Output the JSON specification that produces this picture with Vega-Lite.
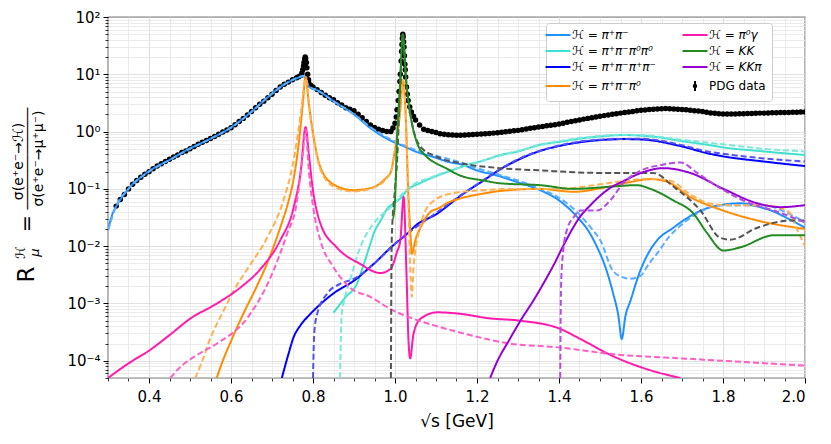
{
  "$schema": "https://vega.github.io/schema/vega-lite/v6.json",
  "width": 697,
  "height": 361,
  "autosize": {"type": "none"},
  "padding": {"left": 108, "top": 17, "right": 26, "bottom": 66},
  "background": "white",
  "config": {
    "font": "DejaVu Sans",
    "view": {"stroke": "black", "strokeWidth": 1.2},
    "axis": {
      "labelFont": "DejaVu Sans",
      "titleFont": "DejaVu Sans",
      "labelColor": "black",
      "titleColor": "black",
      "tickColor": "black",
      "domain": false,
      "titleFontWeight": "normal"
    }
  },
  "datasets": {
    "one": [{"s": 1, "R": 1}],
    "pdg": [
      {"s": 0.32, "R": 0.05, "curve": "PDG"}, {"s": 0.33, "R": 0.065, "curve": "PDG"}, {"s": 0.34, "R": 0.08, "curve": "PDG"},
      {"s": 0.35, "R": 0.1, "curve": "PDG"}, {"s": 0.36, "R": 0.12, "curve": "PDG"}, {"s": 0.37, "R": 0.14, "curve": "PDG"},
      {"s": 0.38, "R": 0.16, "curve": "PDG"}, {"s": 0.39, "R": 0.18, "curve": "PDG"}, {"s": 0.40, "R": 0.2, "curve": "PDG"},
      {"s": 0.41, "R": 0.225, "curve": "PDG"}, {"s": 0.42, "R": 0.25, "curve": "PDG"}, {"s": 0.43, "R": 0.275, "curve": "PDG"},
      {"s": 0.44, "R": 0.3, "curve": "PDG"}, {"s": 0.45, "R": 0.33, "curve": "PDG"}, {"s": 0.46, "R": 0.36, "curve": "PDG"},
      {"s": 0.47, "R": 0.39, "curve": "PDG"}, {"s": 0.48, "R": 0.43, "curve": "PDG"}, {"s": 0.49, "R": 0.46, "curve": "PDG"},
      {"s": 0.50, "R": 0.5, "curve": "PDG"}, {"s": 0.51, "R": 0.55, "curve": "PDG"}, {"s": 0.52, "R": 0.6, "curve": "PDG"},
      {"s": 0.53, "R": 0.65, "curve": "PDG"}, {"s": 0.54, "R": 0.7, "curve": "PDG"}, {"s": 0.55, "R": 0.76, "curve": "PDG"},
      {"s": 0.56, "R": 0.82, "curve": "PDG"}, {"s": 0.57, "R": 0.9, "curve": "PDG"}, {"s": 0.58, "R": 0.98, "curve": "PDG"},
      {"s": 0.59, "R": 1.07, "curve": "PDG"}, {"s": 0.60, "R": 1.17, "curve": "PDG"}, {"s": 0.61, "R": 1.32, "curve": "PDG"},
      {"s": 0.62, "R": 1.5, "curve": "PDG"}, {"s": 0.63, "R": 1.7, "curve": "PDG"}, {"s": 0.64, "R": 1.95, "curve": "PDG"},
      {"s": 0.65, "R": 2.25, "curve": "PDG"}, {"s": 0.66, "R": 2.6, "curve": "PDG"}, {"s": 0.67, "R": 3.0, "curve": "PDG"},
      {"s": 0.68, "R": 3.4, "curve": "PDG"}, {"s": 0.69, "R": 3.9, "curve": "PDG"}, {"s": 0.70, "R": 4.5, "curve": "PDG"},
      {"s": 0.71, "R": 5.2, "curve": "PDG"}, {"s": 0.72, "R": 6.0, "curve": "PDG"}, {"s": 0.73, "R": 6.7, "curve": "PDG"},
      {"s": 0.74, "R": 7.3, "curve": "PDG"}, {"s": 0.75, "R": 8.0, "curve": "PDG"}, {"s": 0.76, "R": 8.7, "curve": "PDG"},
      {"s": 0.765, "R": 9.1, "curve": "PDG"}, {"s": 0.77, "R": 9.5, "curve": "PDG"}, {"s": 0.773, "R": 10.5, "curve": "PDG"},
      {"s": 0.775, "R": 12, "curve": "PDG"}, {"s": 0.777, "R": 14, "curve": "PDG"}, {"s": 0.778, "R": 16, "curve": "PDG"},
      {"s": 0.78, "R": 18.5, "curve": "PDG"}, {"s": 0.781, "R": 20, "curve": "PDG"}, {"s": 0.782, "R": 19, "curve": "PDG"},
      {"s": 0.784, "R": 16, "curve": "PDG"}, {"s": 0.785, "R": 13, "curve": "PDG"}, {"s": 0.787, "R": 10, "curve": "PDG"},
      {"s": 0.789, "R": 8, "curve": "PDG"}, {"s": 0.79, "R": 7.0, "curve": "PDG"}, {"s": 0.795, "R": 6.4, "curve": "PDG"},
      {"s": 0.80, "R": 6.0, "curve": "PDG"}, {"s": 0.81, "R": 5.4, "curve": "PDG"}, {"s": 0.82, "R": 4.8, "curve": "PDG"},
      {"s": 0.83, "R": 4.3, "curve": "PDG"}, {"s": 0.84, "R": 3.9, "curve": "PDG"}, {"s": 0.85, "R": 3.6, "curve": "PDG"},
      {"s": 0.86, "R": 3.2, "curve": "PDG"}, {"s": 0.87, "R": 2.9, "curve": "PDG"}, {"s": 0.88, "R": 2.6, "curve": "PDG"},
      {"s": 0.89, "R": 2.45, "curve": "PDG"}, {"s": 0.90, "R": 2.3, "curve": "PDG"}, {"s": 0.91, "R": 2.0, "curve": "PDG"},
      {"s": 0.92, "R": 1.75, "curve": "PDG"}, {"s": 0.93, "R": 1.5, "curve": "PDG"}, {"s": 0.94, "R": 1.3, "curve": "PDG"},
      {"s": 0.95, "R": 1.18, "curve": "PDG"}, {"s": 0.96, "R": 1.1, "curve": "PDG"}, {"s": 0.97, "R": 1.04, "curve": "PDG"},
      {"s": 0.98, "R": 1.0, "curve": "PDG"}, {"s": 0.99, "R": 1.0, "curve": "PDG"}, {"s": 0.995, "R": 1.15, "curve": "PDG"},
      {"s": 1.0, "R": 1.4, "curve": "PDG"}, {"s": 1.003, "R": 1.8, "curve": "PDG"}, {"s": 1.005, "R": 2.4, "curve": "PDG"},
      {"s": 1.008, "R": 3.5, "curve": "PDG"}, {"s": 1.01, "R": 5, "curve": "PDG"}, {"s": 1.012, "R": 7.5, "curve": "PDG"},
      {"s": 1.013, "R": 10, "curve": "PDG"}, {"s": 1.015, "R": 17, "curve": "PDG"}, {"s": 1.016, "R": 25, "curve": "PDG"},
      {"s": 1.017, "R": 33, "curve": "PDG"}, {"s": 1.018, "R": 42, "curve": "PDG"}, {"s": 1.019, "R": 50, "curve": "PDG"},
      {"s": 1.02, "R": 45, "curve": "PDG"}, {"s": 1.021, "R": 37, "curve": "PDG"}, {"s": 1.022, "R": 30, "curve": "PDG"},
      {"s": 1.023, "R": 21, "curve": "PDG"}, {"s": 1.024, "R": 15, "curve": "PDG"}, {"s": 1.025, "R": 12, "curve": "PDG"},
      {"s": 1.026, "R": 9, "curve": "PDG"}, {"s": 1.028, "R": 6, "curve": "PDG"}, {"s": 1.03, "R": 4.5, "curve": "PDG"},
      {"s": 1.032, "R": 3.5, "curve": "PDG"}, {"s": 1.036, "R": 2.7, "curve": "PDG"},
      {"s": 1.04, "R": 2.2, "curve": "PDG"}, {"s": 1.045, "R": 1.85, "curve": "PDG"}, {"s": 1.05, "R": 1.6, "curve": "PDG"}, {"s": 1.06, "R": 1.3, "curve": "PDG"},
      {"s": 1.07, "R": 1.1, "curve": "PDG"}, {"s": 1.08, "R": 1.04, "curve": "PDG"}, {"s": 1.09, "R": 1.0, "curve": "PDG"},
      {"s": 1.10, "R": 0.96, "curve": "PDG"}, {"s": 1.11, "R": 0.92, "curve": "PDG"}, {"s": 1.12, "R": 0.9, "curve": "PDG"},
      {"s": 1.13, "R": 0.88, "curve": "PDG"}, {"s": 1.14, "R": 0.87, "curve": "PDG"}, {"s": 1.15, "R": 0.86, "curve": "PDG"},
      {"s": 1.16, "R": 0.86, "curve": "PDG"}, {"s": 1.17, "R": 0.87, "curve": "PDG"}, {"s": 1.18, "R": 0.88, "curve": "PDG"},
      {"s": 1.19, "R": 0.89, "curve": "PDG"}, {"s": 1.20, "R": 0.9, "curve": "PDG"}, {"s": 1.21, "R": 0.91, "curve": "PDG"},
      {"s": 1.22, "R": 0.92, "curve": "PDG"}, {"s": 1.23, "R": 0.93, "curve": "PDG"}, {"s": 1.24, "R": 0.94, "curve": "PDG"},
      {"s": 1.25, "R": 0.95, "curve": "PDG"}, {"s": 1.26, "R": 0.97, "curve": "PDG"}, {"s": 1.27, "R": 0.99, "curve": "PDG"},
      {"s": 1.28, "R": 1.01, "curve": "PDG"}, {"s": 1.29, "R": 1.03, "curve": "PDG"}, {"s": 1.30, "R": 1.05, "curve": "PDG"},
      {"s": 1.31, "R": 1.08, "curve": "PDG"}, {"s": 1.32, "R": 1.11, "curve": "PDG"}, {"s": 1.33, "R": 1.14, "curve": "PDG"},
      {"s": 1.34, "R": 1.17, "curve": "PDG"}, {"s": 1.35, "R": 1.2, "curve": "PDG"}, {"s": 1.36, "R": 1.23, "curve": "PDG"},
      {"s": 1.37, "R": 1.26, "curve": "PDG"}, {"s": 1.38, "R": 1.29, "curve": "PDG"}, {"s": 1.39, "R": 1.32, "curve": "PDG"},
      {"s": 1.40, "R": 1.36, "curve": "PDG"}, {"s": 1.41, "R": 1.4, "curve": "PDG"}, {"s": 1.42, "R": 1.45, "curve": "PDG"},
      {"s": 1.43, "R": 1.5, "curve": "PDG"}, {"s": 1.44, "R": 1.55, "curve": "PDG"}, {"s": 1.45, "R": 1.6, "curve": "PDG"},
      {"s": 1.46, "R": 1.65, "curve": "PDG"}, {"s": 1.47, "R": 1.7, "curve": "PDG"}, {"s": 1.48, "R": 1.75, "curve": "PDG"},
      {"s": 1.49, "R": 1.8, "curve": "PDG"}, {"s": 1.50, "R": 1.85, "curve": "PDG"}, {"s": 1.51, "R": 1.9, "curve": "PDG"},
      {"s": 1.52, "R": 1.95, "curve": "PDG"}, {"s": 1.53, "R": 2.0, "curve": "PDG"}, {"s": 1.54, "R": 2.05, "curve": "PDG"},
      {"s": 1.55, "R": 2.1, "curve": "PDG"}, {"s": 1.56, "R": 2.15, "curve": "PDG"}, {"s": 1.57, "R": 2.2, "curve": "PDG"},
      {"s": 1.58, "R": 2.25, "curve": "PDG"}, {"s": 1.59, "R": 2.3, "curve": "PDG"}, {"s": 1.60, "R": 2.35, "curve": "PDG"},
      {"s": 1.61, "R": 2.38, "curve": "PDG"}, {"s": 1.62, "R": 2.42, "curve": "PDG"}, {"s": 1.63, "R": 2.45, "curve": "PDG"},
      {"s": 1.64, "R": 2.48, "curve": "PDG"}, {"s": 1.65, "R": 2.5, "curve": "PDG"}, {"s": 1.66, "R": 2.52, "curve": "PDG"},
      {"s": 1.67, "R": 2.5, "curve": "PDG"}, {"s": 1.68, "R": 2.48, "curve": "PDG"}, {"s": 1.69, "R": 2.46, "curve": "PDG"},
      {"s": 1.70, "R": 2.44, "curve": "PDG"}, {"s": 1.71, "R": 2.4, "curve": "PDG"}, {"s": 1.72, "R": 2.36, "curve": "PDG"},
      {"s": 1.73, "R": 2.32, "curve": "PDG"}, {"s": 1.74, "R": 2.28, "curve": "PDG"}, {"s": 1.75, "R": 2.24, "curve": "PDG"},
      {"s": 1.76, "R": 2.18, "curve": "PDG"}, {"s": 1.77, "R": 2.12, "curve": "PDG"}, {"s": 1.78, "R": 2.08, "curve": "PDG"},
      {"s": 1.79, "R": 2.05, "curve": "PDG"}, {"s": 1.80, "R": 2.03, "curve": "PDG"}, {"s": 1.81, "R": 2.02, "curve": "PDG"},
      {"s": 1.82, "R": 2.02, "curve": "PDG"}, {"s": 1.83, "R": 2.03, "curve": "PDG"}, {"s": 1.84, "R": 2.04, "curve": "PDG"},
      {"s": 1.85, "R": 2.05, "curve": "PDG"}, {"s": 1.86, "R": 2.06, "curve": "PDG"}, {"s": 1.87, "R": 2.07, "curve": "PDG"},
      {"s": 1.88, "R": 2.08, "curve": "PDG"}, {"s": 1.89, "R": 2.1, "curve": "PDG"}, {"s": 1.90, "R": 2.1, "curve": "PDG"},
      {"s": 1.91, "R": 2.12, "curve": "PDG"}, {"s": 1.92, "R": 2.13, "curve": "PDG"}, {"s": 1.93, "R": 2.14, "curve": "PDG"},
      {"s": 1.94, "R": 2.15, "curve": "PDG"}, {"s": 1.95, "R": 2.15, "curve": "PDG"}, {"s": 1.96, "R": 2.16, "curve": "PDG"},
      {"s": 1.97, "R": 2.17, "curve": "PDG"}, {"s": 1.98, "R": 2.18, "curve": "PDG"}, {"s": 1.99, "R": 2.19, "curve": "PDG"},
      {"s": 2.0, "R": 2.2, "curve": "PDG"}
    ],
    "curves": [
      {"s": 0.3, "R": 0.019, "curve": "pipi", "model": "solid"}, {"s": 0.31, "R": 0.035, "curve": "pipi", "model": "solid"},
      {"s": 0.32, "R": 0.05, "curve": "pipi", "model": "solid"}, {"s": 0.33, "R": 0.065, "curve": "pipi", "model": "solid"},
      {"s": 0.35, "R": 0.1, "curve": "pipi", "model": "solid"}, {"s": 0.362, "R": 0.126, "curve": "pipi", "model": "solid"},
      {"s": 0.38, "R": 0.16, "curve": "pipi", "model": "solid"}, {"s": 0.403, "R": 0.21, "curve": "pipi", "model": "solid"},
      {"s": 0.45, "R": 0.32, "curve": "pipi", "model": "solid"}, {"s": 0.493, "R": 0.48, "curve": "pipi", "model": "solid"},
      {"s": 0.55, "R": 0.75, "curve": "pipi", "model": "solid"}, {"s": 0.598, "R": 1.16, "curve": "pipi", "model": "solid"},
      {"s": 0.63, "R": 1.7, "curve": "pipi", "model": "solid"}, {"s": 0.663, "R": 2.7, "curve": "pipi", "model": "solid"},
      {"s": 0.69, "R": 4.0, "curve": "pipi", "model": "solid"}, {"s": 0.712, "R": 5.4, "curve": "pipi", "model": "solid"},
      {"s": 0.735, "R": 7.0, "curve": "pipi", "model": "solid"}, {"s": 0.752, "R": 8.0, "curve": "pipi", "model": "solid"},
      {"s": 0.765, "R": 8.8, "curve": "pipi", "model": "solid"}, {"s": 0.776, "R": 9.3, "curve": "pipi", "model": "solid"},
      {"s": 0.782, "R": 8.5, "curve": "pipi", "model": "solid"}, {"s": 0.786, "R": 6.8, "curve": "pipi", "model": "solid"},
      {"s": 0.79, "R": 6.1, "curve": "pipi", "model": "solid"}, {"s": 0.81, "R": 5.3, "curve": "pipi", "model": "solid"},
      {"s": 0.85, "R": 3.4, "curve": "pipi", "model": "solid"}, {"s": 0.9, "R": 2.0, "curve": "pipi", "model": "solid"},
      {"s": 0.94, "R": 1.15, "curve": "pipi", "model": "solid"}, {"s": 0.996, "R": 0.66, "curve": "pipi", "model": "solid"},
      {"s": 1.02, "R": 0.56, "curve": "pipi", "model": "solid"}, {"s": 1.05, "R": 0.45, "curve": "pipi", "model": "solid"},
      {"s": 1.094, "R": 0.36, "curve": "pipi", "model": "solid"}, {"s": 1.135, "R": 0.29, "curve": "pipi", "model": "solid"},
      {"s": 1.16, "R": 0.27, "curve": "pipi", "model": "solid"}, {"s": 1.2, "R": 0.21, "curve": "pipi", "model": "solid"},
      {"s": 1.25, "R": 0.17, "curve": "pipi", "model": "solid"}, {"s": 1.3, "R": 0.13, "curve": "pipi", "model": "solid"},
      {"s": 1.354, "R": 0.095, "curve": "pipi", "model": "solid"}, {"s": 1.4, "R": 0.063, "curve": "pipi", "model": "solid"},
      {"s": 1.44, "R": 0.035, "curve": "pipi", "model": "solid"}, {"s": 1.477, "R": 0.016, "curve": "pipi", "model": "solid"},
      {"s": 1.493, "R": 0.0096, "curve": "pipi", "model": "solid"}, {"s": 1.51, "R": 0.005, "curve": "pipi", "model": "solid"},
      {"s": 1.532, "R": 0.0015, "curve": "pipi", "model": "solid"}, {"s": 1.545, "R": 0.0006, "curve": "pipi", "model": "solid"},
      {"s": 1.553, "R": 0.00024, "curve": "pipi", "model": "solid"}, {"s": 1.562, "R": 0.0006, "curve": "pipi", "model": "solid"},
      {"s": 1.574, "R": 0.0011, "curve": "pipi", "model": "solid"}, {"s": 1.598, "R": 0.0037, "curve": "pipi", "model": "solid"},
      {"s": 1.62, "R": 0.008, "curve": "pipi", "model": "solid"}, {"s": 1.639, "R": 0.0126, "curve": "pipi", "model": "solid"},
      {"s": 1.679, "R": 0.021, "curve": "pipi", "model": "solid"}, {"s": 1.703, "R": 0.028, "curve": "pipi", "model": "solid"},
      {"s": 1.761, "R": 0.046, "curve": "pipi", "model": "solid"}, {"s": 1.8, "R": 0.053, "curve": "pipi", "model": "solid"},
      {"s": 1.843, "R": 0.056, "curve": "pipi", "model": "solid"}, {"s": 1.88, "R": 0.05, "curve": "pipi", "model": "solid"},
      {"s": 1.924, "R": 0.04, "curve": "pipi", "model": "solid"}, {"s": 1.96, "R": 0.03, "curve": "pipi", "model": "solid"},
      {"s": 2.0, "R": 0.021, "curve": "pipi", "model": "solid"},

      {"s": 0.3, "R": 0.019, "curve": "pipi_d", "model": "dashed"}, {"s": 0.32, "R": 0.05, "curve": "pipi_d", "model": "dashed"},
      {"s": 0.35, "R": 0.1, "curve": "pipi_d", "model": "dashed"}, {"s": 0.4, "R": 0.2, "curve": "pipi_d", "model": "dashed"},
      {"s": 0.45, "R": 0.32, "curve": "pipi_d", "model": "dashed"}, {"s": 0.5, "R": 0.5, "curve": "pipi_d", "model": "dashed"},
      {"s": 0.55, "R": 0.75, "curve": "pipi_d", "model": "dashed"}, {"s": 0.6, "R": 1.17, "curve": "pipi_d", "model": "dashed"},
      {"s": 0.65, "R": 2.2, "curve": "pipi_d", "model": "dashed"}, {"s": 0.7, "R": 4.6, "curve": "pipi_d", "model": "dashed"},
      {"s": 0.735, "R": 7.0, "curve": "pipi_d", "model": "dashed"}, {"s": 0.76, "R": 8.6, "curve": "pipi_d", "model": "dashed"},
      {"s": 0.776, "R": 9.3, "curve": "pipi_d", "model": "dashed"}, {"s": 0.782, "R": 8.5, "curve": "pipi_d", "model": "dashed"},
      {"s": 0.79, "R": 6.1, "curve": "pipi_d", "model": "dashed"}, {"s": 0.81, "R": 5.3, "curve": "pipi_d", "model": "dashed"},
      {"s": 0.85, "R": 3.4, "curve": "pipi_d", "model": "dashed"}, {"s": 0.9, "R": 2.0, "curve": "pipi_d", "model": "dashed"},
      {"s": 0.94, "R": 1.2, "curve": "pipi_d", "model": "dashed"}, {"s": 1.0, "R": 0.67, "curve": "pipi_d", "model": "dashed"},
      {"s": 1.05, "R": 0.48, "curve": "pipi_d", "model": "dashed"}, {"s": 1.1, "R": 0.38, "curve": "pipi_d", "model": "dashed"},
      {"s": 1.16, "R": 0.29, "curve": "pipi_d", "model": "dashed"}, {"s": 1.2, "R": 0.23, "curve": "pipi_d", "model": "dashed"},
      {"s": 1.25, "R": 0.18, "curve": "pipi_d", "model": "dashed"}, {"s": 1.3, "R": 0.14, "curve": "pipi_d", "model": "dashed"},
      {"s": 1.354, "R": 0.1, "curve": "pipi_d", "model": "dashed"}, {"s": 1.4, "R": 0.07, "curve": "pipi_d", "model": "dashed"},
      {"s": 1.44, "R": 0.042, "curve": "pipi_d", "model": "dashed"}, {"s": 1.48, "R": 0.02, "curve": "pipi_d", "model": "dashed"},
      {"s": 1.5, "R": 0.013, "curve": "pipi_d", "model": "dashed"}, {"s": 1.532, "R": 0.0037, "curve": "pipi_d", "model": "dashed"},
      {"s": 1.56, "R": 0.0028, "curve": "pipi_d", "model": "dashed"}, {"s": 1.574, "R": 0.0027, "curve": "pipi_d", "model": "dashed"},
      {"s": 1.598, "R": 0.003, "curve": "pipi_d", "model": "dashed"}, {"s": 1.62, "R": 0.005, "curve": "pipi_d", "model": "dashed"},
      {"s": 1.639, "R": 0.0074, "curve": "pipi_d", "model": "dashed"}, {"s": 1.67, "R": 0.015, "curve": "pipi_d", "model": "dashed"},
      {"s": 1.703, "R": 0.025, "curve": "pipi_d", "model": "dashed"}, {"s": 1.76, "R": 0.045, "curve": "pipi_d", "model": "dashed"},
      {"s": 1.8, "R": 0.052, "curve": "pipi_d", "model": "dashed"}, {"s": 1.9, "R": 0.052, "curve": "pipi_d", "model": "dashed"},
      {"s": 1.95, "R": 0.04, "curve": "pipi_d", "model": "dashed"}, {"s": 2.0, "R": 0.026, "curve": "pipi_d", "model": "dashed"},

      {"s": 0.85, "R": 0.00069, "curve": "4pi0", "model": "solid"}, {"s": 0.88, "R": 0.0013, "curve": "4pi0", "model": "solid"},
      {"s": 0.907, "R": 0.0022, "curve": "4pi0", "model": "solid"}, {"s": 0.924, "R": 0.0049, "curve": "4pi0", "model": "solid"},
      {"s": 0.94, "R": 0.011, "curve": "4pi0", "model": "solid"}, {"s": 0.948, "R": 0.0166, "curve": "4pi0", "model": "solid"},
      {"s": 0.965, "R": 0.028, "curve": "4pi0", "model": "solid"}, {"s": 0.981, "R": 0.045, "curve": "4pi0", "model": "solid"},
      {"s": 1.0, "R": 0.058, "curve": "4pi0", "model": "solid"}, {"s": 1.013, "R": 0.068, "curve": "4pi0", "model": "solid"},
      {"s": 1.03, "R": 0.095, "curve": "4pi0", "model": "solid"}, {"s": 1.06, "R": 0.125, "curve": "4pi0", "model": "solid"},
      {"s": 1.094, "R": 0.16, "curve": "4pi0", "model": "solid"}, {"s": 1.13, "R": 0.2, "curve": "4pi0", "model": "solid"},
      {"s": 1.176, "R": 0.26, "curve": "4pi0", "model": "solid"}, {"s": 1.22, "R": 0.32, "curve": "4pi0", "model": "solid"},
      {"s": 1.257, "R": 0.39, "curve": "4pi0", "model": "solid"}, {"s": 1.3, "R": 0.45, "curve": "4pi0", "model": "solid"},
      {"s": 1.354, "R": 0.59, "curve": "4pi0", "model": "solid"}, {"s": 1.4, "R": 0.66, "curve": "4pi0", "model": "solid"},
      {"s": 1.45, "R": 0.75, "curve": "4pi0", "model": "solid"}, {"s": 1.5, "R": 0.82, "curve": "4pi0", "model": "solid"},
      {"s": 1.557, "R": 0.87, "curve": "4pi0", "model": "solid"}, {"s": 1.6, "R": 0.85, "curve": "4pi0", "model": "solid"},
      {"s": 1.65, "R": 0.78, "curve": "4pi0", "model": "solid"}, {"s": 1.7, "R": 0.68, "curve": "4pi0", "model": "solid"},
      {"s": 1.761, "R": 0.59, "curve": "4pi0", "model": "solid"}, {"s": 1.8, "R": 0.53, "curve": "4pi0", "model": "solid"},
      {"s": 1.9, "R": 0.45, "curve": "4pi0", "model": "solid"}, {"s": 2.0, "R": 0.39, "curve": "4pi0", "model": "solid"},

      {"s": 0.866, "R": 0.00005, "curve": "4pi0_d", "model": "dashed"}, {"s": 0.87, "R": 0.00065, "curve": "4pi0_d", "model": "dashed"},
      {"s": 0.877, "R": 0.0012, "curve": "4pi0_d", "model": "dashed"}, {"s": 0.89, "R": 0.0025, "curve": "4pi0_d", "model": "dashed"},
      {"s": 0.915, "R": 0.0095, "curve": "4pi0_d", "model": "dashed"}, {"s": 0.948, "R": 0.025, "curve": "4pi0_d", "model": "dashed"},
      {"s": 0.99, "R": 0.048, "curve": "4pi0_d", "model": "dashed"}, {"s": 1.03, "R": 0.1, "curve": "4pi0_d", "model": "dashed"},
      {"s": 1.1, "R": 0.17, "curve": "4pi0_d", "model": "dashed"}, {"s": 1.2, "R": 0.29, "curve": "4pi0_d", "model": "dashed"},
      {"s": 1.3, "R": 0.46, "curve": "4pi0_d", "model": "dashed"}, {"s": 1.4, "R": 0.68, "curve": "4pi0_d", "model": "dashed"},
      {"s": 1.5, "R": 0.84, "curve": "4pi0_d", "model": "dashed"}, {"s": 1.557, "R": 0.88, "curve": "4pi0_d", "model": "dashed"},
      {"s": 1.6, "R": 0.87, "curve": "4pi0_d", "model": "dashed"}, {"s": 1.7, "R": 0.72, "curve": "4pi0_d", "model": "dashed"},
      {"s": 1.8, "R": 0.6, "curve": "4pi0_d", "model": "dashed"}, {"s": 1.9, "R": 0.5, "curve": "4pi0_d", "model": "dashed"},
      {"s": 2.0, "R": 0.45, "curve": "4pi0_d", "model": "dashed"},

      {"s": 0.724, "R": 0.00005, "curve": "4pi", "model": "solid"}, {"s": 0.74, "R": 0.00013, "curve": "4pi", "model": "solid"},
      {"s": 0.752, "R": 0.00025, "curve": "4pi", "model": "solid"}, {"s": 0.77, "R": 0.00042, "curve": "4pi", "model": "solid"},
      {"s": 0.793, "R": 0.00065, "curve": "4pi", "model": "solid"}, {"s": 0.82, "R": 0.001, "curve": "4pi", "model": "solid"},
      {"s": 0.85, "R": 0.0015, "curve": "4pi", "model": "solid"}, {"s": 0.9, "R": 0.0025, "curve": "4pi", "model": "solid"},
      {"s": 0.948, "R": 0.0049, "curve": "4pi", "model": "solid"}, {"s": 1.0, "R": 0.011, "curve": "4pi", "model": "solid"},
      {"s": 1.021, "R": 0.0145, "curve": "4pi", "model": "solid"}, {"s": 1.054, "R": 0.024, "curve": "4pi", "model": "solid"},
      {"s": 1.103, "R": 0.037, "curve": "4pi", "model": "solid"}, {"s": 1.135, "R": 0.055, "curve": "4pi", "model": "solid"},
      {"s": 1.159, "R": 0.075, "curve": "4pi", "model": "solid"}, {"s": 1.216, "R": 0.14, "curve": "4pi", "model": "solid"},
      {"s": 1.257, "R": 0.22, "curve": "4pi", "model": "solid"}, {"s": 1.3, "R": 0.32, "curve": "4pi", "model": "solid"},
      {"s": 1.354, "R": 0.46, "curve": "4pi", "model": "solid"}, {"s": 1.4, "R": 0.56, "curve": "4pi", "model": "solid"},
      {"s": 1.5, "R": 0.71, "curve": "4pi", "model": "solid"}, {"s": 1.557, "R": 0.74, "curve": "4pi", "model": "solid"},
      {"s": 1.6, "R": 0.73, "curve": "4pi", "model": "solid"}, {"s": 1.7, "R": 0.55, "curve": "4pi", "model": "solid"},
      {"s": 1.761, "R": 0.42, "curve": "4pi", "model": "solid"}, {"s": 1.8, "R": 0.37, "curve": "4pi", "model": "solid"},
      {"s": 1.9, "R": 0.3, "curve": "4pi", "model": "solid"}, {"s": 2.0, "R": 0.25, "curve": "4pi", "model": "solid"},

      {"s": 0.8, "R": 0.00005, "curve": "4pi_d", "model": "dashed"}, {"s": 0.803, "R": 0.0003, "curve": "4pi_d", "model": "dashed"},
      {"s": 0.81, "R": 0.00065, "curve": "4pi_d", "model": "dashed"}, {"s": 0.835, "R": 0.0015, "curve": "4pi_d", "model": "dashed"},
      {"s": 0.866, "R": 0.0022, "curve": "4pi_d", "model": "dashed"}, {"s": 0.9, "R": 0.0027, "curve": "4pi_d", "model": "dashed"},
      {"s": 0.95, "R": 0.005, "curve": "4pi_d", "model": "dashed"}, {"s": 1.0, "R": 0.011, "curve": "4pi_d", "model": "dashed"},
      {"s": 1.1, "R": 0.038, "curve": "4pi_d", "model": "dashed"}, {"s": 1.2, "R": 0.12, "curve": "4pi_d", "model": "dashed"},
      {"s": 1.3, "R": 0.33, "curve": "4pi_d", "model": "dashed"}, {"s": 1.4, "R": 0.57, "curve": "4pi_d", "model": "dashed"},
      {"s": 1.5, "R": 0.72, "curve": "4pi_d", "model": "dashed"}, {"s": 1.6, "R": 0.75, "curve": "4pi_d", "model": "dashed"},
      {"s": 1.7, "R": 0.58, "curve": "4pi_d", "model": "dashed"}, {"s": 1.761, "R": 0.45, "curve": "4pi_d", "model": "dashed"},
      {"s": 1.8, "R": 0.41, "curve": "4pi_d", "model": "dashed"}, {"s": 1.9, "R": 0.34, "curve": "4pi_d", "model": "dashed"},
      {"s": 2.0, "R": 0.3, "curve": "4pi_d", "model": "dashed"},

      {"s": 0.565, "R": 0.00005, "curve": "3pi", "model": "solid"}, {"s": 0.58, "R": 0.0001, "curve": "3pi", "model": "solid"},
      {"s": 0.6, "R": 0.00022, "curve": "3pi", "model": "solid"}, {"s": 0.63, "R": 0.00066, "curve": "3pi", "model": "solid"},
      {"s": 0.66, "R": 0.0018, "curve": "3pi", "model": "solid"}, {"s": 0.688, "R": 0.005, "curve": "3pi", "model": "solid"},
      {"s": 0.72, "R": 0.021, "curve": "3pi", "model": "solid"}, {"s": 0.74, "R": 0.06, "curve": "3pi", "model": "solid"},
      {"s": 0.752, "R": 0.14, "curve": "3pi", "model": "solid"}, {"s": 0.765, "R": 0.6, "curve": "3pi", "model": "solid"},
      {"s": 0.775, "R": 3.0, "curve": "3pi", "model": "solid"}, {"s": 0.782, "R": 9.0, "curve": "3pi", "model": "solid"},
      {"s": 0.79, "R": 3.0, "curve": "3pi", "model": "solid"}, {"s": 0.8, "R": 0.94, "curve": "3pi", "model": "solid"},
      {"s": 0.818, "R": 0.24, "curve": "3pi", "model": "solid"}, {"s": 0.85, "R": 0.12, "curve": "3pi", "model": "solid"},
      {"s": 0.898, "R": 0.095, "curve": "3pi", "model": "solid"}, {"s": 0.947, "R": 0.107, "curve": "3pi", "model": "solid"},
      {"s": 0.98, "R": 0.16, "curve": "3pi", "model": "solid"}, {"s": 0.989, "R": 0.19, "curve": "3pi", "model": "solid"},
      {"s": 1.0, "R": 0.48, "curve": "3pi", "model": "solid"}, {"s": 1.013, "R": 2.4, "curve": "3pi", "model": "solid"},
      {"s": 1.019, "R": 8.0, "curve": "3pi", "model": "solid"}, {"s": 1.026, "R": 2.0, "curve": "3pi", "model": "solid"},
      {"s": 1.032, "R": 0.1, "curve": "3pi", "model": "solid"}, {"s": 1.038, "R": 0.015, "curve": "3pi", "model": "solid"},
      {"s": 1.041, "R": 0.0074, "curve": "3pi", "model": "solid"}, {"s": 1.05, "R": 0.013, "curve": "3pi", "model": "solid"},
      {"s": 1.062, "R": 0.021, "curve": "3pi", "model": "solid"}, {"s": 1.087, "R": 0.04, "curve": "3pi", "model": "solid"},
      {"s": 1.103, "R": 0.045, "curve": "3pi", "model": "solid"}, {"s": 1.135, "R": 0.06, "curve": "3pi", "model": "solid"},
      {"s": 1.159, "R": 0.068, "curve": "3pi", "model": "solid"}, {"s": 1.216, "R": 0.083, "curve": "3pi", "model": "solid"},
      {"s": 1.257, "R": 0.092, "curve": "3pi", "model": "solid"}, {"s": 1.354, "R": 0.1, "curve": "3pi", "model": "solid"},
      {"s": 1.436, "R": 0.089, "curve": "3pi", "model": "solid"}, {"s": 1.517, "R": 0.108, "curve": "3pi", "model": "solid"},
      {"s": 1.57, "R": 0.13, "curve": "3pi", "model": "solid"}, {"s": 1.623, "R": 0.148, "curve": "3pi", "model": "solid"},
      {"s": 1.664, "R": 0.133, "curve": "3pi", "model": "solid"}, {"s": 1.72, "R": 0.072, "curve": "3pi", "model": "solid"},
      {"s": 1.8, "R": 0.042, "curve": "3pi", "model": "solid"}, {"s": 1.884, "R": 0.028, "curve": "3pi", "model": "solid"},
      {"s": 2.0, "R": 0.02, "curve": "3pi", "model": "solid"},

      {"s": 0.513, "R": 0.00005, "curve": "3pi_d", "model": "dashed"}, {"s": 0.53, "R": 0.0001, "curve": "3pi_d", "model": "dashed"},
      {"s": 0.55, "R": 0.00025, "curve": "3pi_d", "model": "dashed"}, {"s": 0.58, "R": 0.0007, "curve": "3pi_d", "model": "dashed"},
      {"s": 0.607, "R": 0.0017, "curve": "3pi_d", "model": "dashed"}, {"s": 0.64, "R": 0.004, "curve": "3pi_d", "model": "dashed"},
      {"s": 0.688, "R": 0.014, "curve": "3pi_d", "model": "dashed"}, {"s": 0.728, "R": 0.063, "curve": "3pi_d", "model": "dashed"},
      {"s": 0.75, "R": 0.25, "curve": "3pi_d", "model": "dashed"}, {"s": 0.77, "R": 2.0, "curve": "3pi_d", "model": "dashed"},
      {"s": 0.782, "R": 8.5, "curve": "3pi_d", "model": "dashed"}, {"s": 0.79, "R": 3.0, "curve": "3pi_d", "model": "dashed"},
      {"s": 0.8, "R": 0.9, "curve": "3pi_d", "model": "dashed"}, {"s": 0.818, "R": 0.22, "curve": "3pi_d", "model": "dashed"},
      {"s": 0.85, "R": 0.11, "curve": "3pi_d", "model": "dashed"}, {"s": 0.898, "R": 0.09, "curve": "3pi_d", "model": "dashed"},
      {"s": 0.947, "R": 0.105, "curve": "3pi_d", "model": "dashed"}, {"s": 0.989, "R": 0.19, "curve": "3pi_d", "model": "dashed"},
      {"s": 1.0, "R": 0.48, "curve": "3pi_d", "model": "dashed"}, {"s": 1.013, "R": 2.4, "curve": "3pi_d", "model": "dashed"},
      {"s": 1.019, "R": 8.0, "curve": "3pi_d", "model": "dashed"}, {"s": 1.026, "R": 2.0, "curve": "3pi_d", "model": "dashed"},
      {"s": 1.032, "R": 0.08, "curve": "3pi_d", "model": "dashed"}, {"s": 1.038, "R": 0.003, "curve": "3pi_d", "model": "dashed"},
      {"s": 1.041, "R": 0.0013, "curve": "3pi_d", "model": "dashed"}, {"s": 1.045, "R": 0.004, "curve": "3pi_d", "model": "dashed"},
      {"s": 1.06, "R": 0.02, "curve": "3pi_d", "model": "dashed"}, {"s": 1.087, "R": 0.056, "curve": "3pi_d", "model": "dashed"},
      {"s": 1.14, "R": 0.084, "curve": "3pi_d", "model": "dashed"}, {"s": 1.216, "R": 0.095, "curve": "3pi_d", "model": "dashed"},
      {"s": 1.3, "R": 0.1, "curve": "3pi_d", "model": "dashed"}, {"s": 1.4, "R": 0.1, "curve": "3pi_d", "model": "dashed"},
      {"s": 1.5, "R": 0.12, "curve": "3pi_d", "model": "dashed"}, {"s": 1.55, "R": 0.135, "curve": "3pi_d", "model": "dashed"},
      {"s": 1.62, "R": 0.15, "curve": "3pi_d", "model": "dashed"}, {"s": 1.67, "R": 0.14, "curve": "3pi_d", "model": "dashed"},
      {"s": 1.72, "R": 0.08, "curve": "3pi_d", "model": "dashed"}, {"s": 1.77, "R": 0.055, "curve": "3pi_d", "model": "dashed"},
      {"s": 1.82, "R": 0.052, "curve": "3pi_d", "model": "dashed"}, {"s": 1.9, "R": 0.052, "curve": "3pi_d", "model": "dashed"},
      {"s": 1.96, "R": 0.04, "curve": "3pi_d", "model": "dashed"}, {"s": 1.98, "R": 0.02, "curve": "3pi_d", "model": "dashed"},
      {"s": 2.0, "R": 0.01, "curve": "3pi_d", "model": "dashed"},

      {"s": 0.3, "R": 0.00005, "curve": "pi0g", "model": "solid"}, {"s": 0.35, "R": 0.00009, "curve": "pi0g", "model": "solid"},
      {"s": 0.4, "R": 0.00015, "curve": "pi0g", "model": "solid"}, {"s": 0.45, "R": 0.00028, "curve": "pi0g", "model": "solid"},
      {"s": 0.5, "R": 0.00054, "curve": "pi0g", "model": "solid"}, {"s": 0.566, "R": 0.001, "curve": "pi0g", "model": "solid"},
      {"s": 0.623, "R": 0.0019, "curve": "pi0g", "model": "solid"}, {"s": 0.672, "R": 0.004, "curve": "pi0g", "model": "solid"},
      {"s": 0.72, "R": 0.0126, "curve": "pi0g", "model": "solid"}, {"s": 0.753, "R": 0.048, "curve": "pi0g", "model": "solid"},
      {"s": 0.77, "R": 0.2, "curve": "pi0g", "model": "solid"}, {"s": 0.782, "R": 1.2, "curve": "pi0g", "model": "solid"},
      {"s": 0.79, "R": 0.4, "curve": "pi0g", "model": "solid"}, {"s": 0.798, "R": 0.12, "curve": "pi0g", "model": "solid"},
      {"s": 0.818, "R": 0.025, "curve": "pi0g", "model": "solid"}, {"s": 0.858, "R": 0.0095, "curve": "pi0g", "model": "solid"},
      {"s": 0.915, "R": 0.0049, "curve": "pi0g", "model": "solid"}, {"s": 0.964, "R": 0.0034, "curve": "pi0g", "model": "solid"},
      {"s": 0.989, "R": 0.004, "curve": "pi0g", "model": "solid"}, {"s": 1.005, "R": 0.008, "curve": "pi0g", "model": "solid"},
      {"s": 1.013, "R": 0.0126, "curve": "pi0g", "model": "solid"}, {"s": 1.021, "R": 0.072, "curve": "pi0g", "model": "solid"},
      {"s": 1.028, "R": 0.0033, "curve": "pi0g", "model": "solid"}, {"s": 1.033, "R": 0.00022, "curve": "pi0g", "model": "solid"},
      {"s": 1.037, "R": 0.00011, "curve": "pi0g", "model": "solid"}, {"s": 1.045, "R": 0.00029, "curve": "pi0g", "model": "solid"},
      {"s": 1.062, "R": 0.00054, "curve": "pi0g", "model": "solid"}, {"s": 1.103, "R": 0.0007, "curve": "pi0g", "model": "solid"},
      {"s": 1.159, "R": 0.00066, "curve": "pi0g", "model": "solid"}, {"s": 1.23, "R": 0.00055, "curve": "pi0g", "model": "solid"},
      {"s": 1.306, "R": 0.0005, "curve": "pi0g", "model": "solid"}, {"s": 1.403, "R": 0.00036, "curve": "pi0g", "model": "solid"},
      {"s": 1.452, "R": 0.00024, "curve": "pi0g", "model": "solid"}, {"s": 1.532, "R": 0.00012, "curve": "pi0g", "model": "solid"},
      {"s": 1.615, "R": 0.000071, "curve": "pi0g", "model": "solid"}, {"s": 1.696, "R": 0.00005, "curve": "pi0g", "model": "solid"},

      {"s": 0.452, "R": 0.00005, "curve": "pi0g_d", "model": "dashed"}, {"s": 0.47, "R": 0.00007, "curve": "pi0g_d", "model": "dashed"},
      {"s": 0.52, "R": 0.00013, "curve": "pi0g_d", "model": "dashed"}, {"s": 0.566, "R": 0.0002, "curve": "pi0g_d", "model": "dashed"},
      {"s": 0.64, "R": 0.00056, "curve": "pi0g_d", "model": "dashed"}, {"s": 0.696, "R": 0.0028, "curve": "pi0g_d", "model": "dashed"},
      {"s": 0.737, "R": 0.0166, "curve": "pi0g_d", "model": "dashed"}, {"s": 0.76, "R": 0.055, "curve": "pi0g_d", "model": "dashed"},
      {"s": 0.775, "R": 0.4, "curve": "pi0g_d", "model": "dashed"}, {"s": 0.782, "R": 1.1, "curve": "pi0g_d", "model": "dashed"},
      {"s": 0.79, "R": 0.2, "curve": "pi0g_d", "model": "dashed"}, {"s": 0.8, "R": 0.05, "curve": "pi0g_d", "model": "dashed"},
      {"s": 0.818, "R": 0.0126, "curve": "pi0g_d", "model": "dashed"}, {"s": 0.85, "R": 0.0043, "curve": "pi0g_d", "model": "dashed"},
      {"s": 0.89, "R": 0.0019, "curve": "pi0g_d", "model": "dashed"}, {"s": 0.94, "R": 0.0013, "curve": "pi0g_d", "model": "dashed"},
      {"s": 0.989, "R": 0.0008, "curve": "pi0g_d", "model": "dashed"}, {"s": 1.045, "R": 0.00054, "curve": "pi0g_d", "model": "dashed"},
      {"s": 1.103, "R": 0.0004, "curve": "pi0g_d", "model": "dashed"}, {"s": 1.159, "R": 0.00031, "curve": "pi0g_d", "model": "dashed"},
      {"s": 1.28, "R": 0.0002, "curve": "pi0g_d", "model": "dashed"}, {"s": 1.403, "R": 0.00017, "curve": "pi0g_d", "model": "dashed"},
      {"s": 1.532, "R": 0.00013, "curve": "pi0g_d", "model": "dashed"}, {"s": 1.7, "R": 0.00011, "curve": "pi0g_d", "model": "dashed"},
      {"s": 1.8, "R": 0.0001, "curve": "pi0g_d", "model": "dashed"}, {"s": 2.0, "R": 0.000082, "curve": "pi0g_d", "model": "dashed"},

      {"s": 0.99, "R": 0.00005, "curve": "KK_d", "model": "dashed"}, {"s": 0.992, "R": 0.013, "curve": "KK_d", "model": "dashed"},
      {"s": 1.0, "R": 0.1, "curve": "KK_d", "model": "dashed"}, {"s": 1.005, "R": 0.3, "curve": "KK_d", "model": "dashed"},
      {"s": 1.012, "R": 5, "curve": "KK_d", "model": "dashed"}, {"s": 1.019, "R": 50, "curve": "KK_d", "model": "dashed"},
      {"s": 1.027, "R": 8, "curve": "KK_d", "model": "dashed"}, {"s": 1.04, "R": 1.6, "curve": "KK_d", "model": "dashed"},
      {"s": 1.062, "R": 0.55, "curve": "KK_d", "model": "dashed"}, {"s": 1.103, "R": 0.36, "curve": "KK_d", "model": "dashed"},
      {"s": 1.16, "R": 0.28, "curve": "KK_d", "model": "dashed"}, {"s": 1.257, "R": 0.23, "curve": "KK_d", "model": "dashed"},
      {"s": 1.354, "R": 0.21, "curve": "KK_d", "model": "dashed"}, {"s": 1.5, "R": 0.19, "curve": "KK_d", "model": "dashed"},
      {"s": 1.63, "R": 0.19, "curve": "KK_d", "model": "dashed"}, {"s": 1.679, "R": 0.11, "curve": "KK_d", "model": "dashed"},
      {"s": 1.745, "R": 0.042, "curve": "KK_d", "model": "dashed"}, {"s": 1.793, "R": 0.014, "curve": "KK_d", "model": "dashed"},
      {"s": 1.818, "R": 0.013, "curve": "KK_d", "model": "dashed"}, {"s": 1.884, "R": 0.021, "curve": "KK_d", "model": "dashed"},
      {"s": 1.965, "R": 0.028, "curve": "KK_d", "model": "dashed"}, {"s": 2.0, "R": 0.028, "curve": "KK_d", "model": "dashed"},

      {"s": 0.995, "R": 0.03, "curve": "KK", "model": "solid"}, {"s": 1.0, "R": 0.063, "curve": "KK", "model": "solid"},
      {"s": 1.005, "R": 0.8, "curve": "KK", "model": "solid"}, {"s": 1.012, "R": 6, "curve": "KK", "model": "solid"},
      {"s": 1.019, "R": 50, "curve": "KK", "model": "solid"}, {"s": 1.027, "R": 8, "curve": "KK", "model": "solid"},
      {"s": 1.037, "R": 2.1, "curve": "KK", "model": "solid"}, {"s": 1.054, "R": 0.63, "curve": "KK", "model": "solid"},
      {"s": 1.078, "R": 0.36, "curve": "KK", "model": "solid"}, {"s": 1.1, "R": 0.28, "curve": "KK", "model": "solid"},
      {"s": 1.119, "R": 0.24, "curve": "KK", "model": "solid"}, {"s": 1.16, "R": 0.17, "curve": "KK", "model": "solid"},
      {"s": 1.216, "R": 0.14, "curve": "KK", "model": "solid"}, {"s": 1.257, "R": 0.125, "curve": "KK", "model": "solid"},
      {"s": 1.354, "R": 0.116, "curve": "KK", "model": "solid"}, {"s": 1.436, "R": 0.1, "curve": "KK", "model": "solid"},
      {"s": 1.517, "R": 0.108, "curve": "KK", "model": "solid"}, {"s": 1.59, "R": 0.116, "curve": "KK", "model": "solid"},
      {"s": 1.623, "R": 0.1, "curve": "KK", "model": "solid"}, {"s": 1.679, "R": 0.063, "curve": "KK", "model": "solid"},
      {"s": 1.728, "R": 0.037, "curve": "KK", "model": "solid"}, {"s": 1.761, "R": 0.017, "curve": "KK", "model": "solid"},
      {"s": 1.801, "R": 0.0084, "curve": "KK", "model": "solid"}, {"s": 1.843, "R": 0.0096, "curve": "KK", "model": "solid"},
      {"s": 1.924, "R": 0.0155, "curve": "KK", "model": "solid"}, {"s": 2.0, "R": 0.0155, "curve": "KK", "model": "solid"},

      {"s": 1.232, "R": 0.00005, "curve": "KKpi", "model": "solid"}, {"s": 1.25, "R": 0.0001, "curve": "KKpi", "model": "solid"},
      {"s": 1.277, "R": 0.00022, "curve": "KKpi", "model": "solid"}, {"s": 1.306, "R": 0.0005, "curve": "KKpi", "model": "solid"},
      {"s": 1.34, "R": 0.0012, "curve": "KKpi", "model": "solid"}, {"s": 1.371, "R": 0.0029, "curve": "KKpi", "model": "solid"},
      {"s": 1.387, "R": 0.0047, "curve": "KKpi", "model": "solid"}, {"s": 1.41, "R": 0.01, "curve": "KKpi", "model": "solid"},
      {"s": 1.436, "R": 0.022, "curve": "KKpi", "model": "solid"}, {"s": 1.445, "R": 0.028, "curve": "KKpi", "model": "solid"},
      {"s": 1.48, "R": 0.055, "curve": "KKpi", "model": "solid"}, {"s": 1.517, "R": 0.095, "curve": "KKpi", "model": "solid"},
      {"s": 1.56, "R": 0.14, "curve": "KKpi", "model": "solid"}, {"s": 1.6, "R": 0.19, "curve": "KKpi", "model": "solid"},
      {"s": 1.655, "R": 0.23, "curve": "KKpi", "model": "solid"}, {"s": 1.72, "R": 0.19, "curve": "KKpi", "model": "solid"},
      {"s": 1.801, "R": 0.1, "curve": "KKpi", "model": "solid"}, {"s": 1.884, "R": 0.056, "curve": "KKpi", "model": "solid"},
      {"s": 1.94, "R": 0.048, "curve": "KKpi", "model": "solid"}, {"s": 2.0, "R": 0.052, "curve": "KKpi", "model": "solid"},

      {"s": 1.403, "R": 0.00005, "curve": "KKpi_d", "model": "dashed"}, {"s": 1.405, "R": 0.002, "curve": "KKpi_d", "model": "dashed"},
      {"s": 1.41, "R": 0.008, "curve": "KKpi_d", "model": "dashed"}, {"s": 1.42, "R": 0.02, "curve": "KKpi_d", "model": "dashed"},
      {"s": 1.436, "R": 0.032, "curve": "KKpi_d", "model": "dashed"}, {"s": 1.452, "R": 0.042, "curve": "KKpi_d", "model": "dashed"},
      {"s": 1.493, "R": 0.042, "curve": "KKpi_d", "model": "dashed"}, {"s": 1.525, "R": 0.063, "curve": "KKpi_d", "model": "dashed"},
      {"s": 1.557, "R": 0.126, "curve": "KKpi_d", "model": "dashed"}, {"s": 1.6, "R": 0.21, "curve": "KKpi_d", "model": "dashed"},
      {"s": 1.648, "R": 0.26, "curve": "KKpi_d", "model": "dashed"}, {"s": 1.696, "R": 0.29, "curve": "KKpi_d", "model": "dashed"},
      {"s": 1.737, "R": 0.19, "curve": "KKpi_d", "model": "dashed"}, {"s": 1.801, "R": 0.095, "curve": "KKpi_d", "model": "dashed"},
      {"s": 1.858, "R": 0.059, "curve": "KKpi_d", "model": "dashed"}, {"s": 1.924, "R": 0.042, "curve": "KKpi_d", "model": "dashed"},
      {"s": 2.0, "R": 0.026, "curve": "KKpi_d", "model": "dashed"}
    ]
  },
  "layer": [
    {
      "data": {"name": "one"},
      "mark": {"type": "point", "opacity": 0},
      "encoding": {
        "x": {
          "field": "s", "type": "quantitative",
          "scale": {"domain": [0.3, 2.0], "nice": false, "zero": false},
          "axis": {
            "orient": "bottom", "title": null, "labels": false, "tickSize": 3, "tickWidth": 0.8,
            "grid": true, "gridColor": "#e6e6e6", "gridWidth": 0.8,
            "values": [0.3, 0.35, 0.4, 0.45, 0.5, 0.55, 0.6, 0.65, 0.7, 0.75, 0.8, 0.85, 0.9, 0.95, 1.0, 1.05, 1.1, 1.15, 1.2, 1.25, 1.3, 1.35, 1.4, 1.45, 1.5, 1.55, 1.6, 1.65, 1.7, 1.75, 1.8, 1.85, 1.9, 1.95, 2.0]
          }
        },
        "y": {
          "field": "R", "type": "quantitative",
          "scale": {"type": "log", "domain": [0.00005, 100], "nice": false},
          "axis": {
            "orient": "left", "title": null, "labels": false, "tickSize": 3, "tickWidth": 0.8,
            "grid": true, "gridColor": "#e6e6e6", "gridWidth": 0.8,
            "values": [0.00005, 0.00006, 0.00007, 0.00008, 0.00009, 0.0002, 0.0003, 0.0004, 0.0005, 0.0006, 0.0007, 0.0008, 0.0009, 0.002, 0.003, 0.004, 0.005, 0.006, 0.007, 0.008, 0.009, 0.02, 0.03, 0.04, 0.05, 0.06, 0.07, 0.08, 0.09, 0.2, 0.3, 0.4, 0.5, 0.6, 0.7, 0.8, 0.9, 2, 3, 4, 5, 6, 7, 8, 9, 20, 30, 40, 50, 60, 70, 80, 90]
          }
        }
      }
    },
    {
      "data": {"name": "one"},
      "mark": {"type": "point", "opacity": 0},
      "encoding": {
        "x": {
          "field": "s", "type": "quantitative",
          "scale": {"domain": [0.3, 2.0], "nice": false, "zero": false},
          "axis": {
            "orient": "bottom", "title": "√s [GeV]", "titleFontSize": 17, "titlePadding": 9,
            "labelFontSize": 15, "labelPadding": 6, "tickSize": 5, "format": ".1f",
            "grid": true, "gridColor": "#d9d9d9", "gridWidth": 0.8,
            "values": [0.4, 0.6, 0.8, 1.0, 1.2, 1.4, 1.6, 1.8, 2.0]
          }
        },
        "y": {
          "field": "R", "type": "quantitative",
          "scale": {"type": "log", "domain": [0.00005, 100], "nice": false},
          "axis": {
            "orient": "left", "title": null, "labelFontSize": 15, "labelPadding": 3, "tickSize": 5,
            "grid": true, "gridColor": "#d9d9d9", "gridWidth": 0.8,
            "values": [0.0001, 0.001, 0.01, 0.1, 1, 10, 100],
            "labelExpr": "['10⁻⁴','10⁻³','10⁻²','10⁻¹','10⁰','10¹','10²'][round(log(datum.value)/LN10)+4]"
          }
        }
      }
    },
    {
      "data": {"name": "one"},
      "mark": {"type": "point", "opacity": 0},
      "encoding": {
        "y": {
          "field": "R", "type": "quantitative",
          "scale": {"type": "log", "domain": [0.00005, 100], "nice": false},
          "axis": {"orient": "left", "labels": false, "ticks": false, "grid": false, "title": "σ(e⁺e⁻→ℋ)", "titleFontSize": 14, "titleX": -90, "titleY": 144, "titleAlign": "center", "titleBaseline": "middle", "titleAngle": 270}
        }
      }
    },
    {
      "data": {"name": "one"},
      "mark": {"type": "point", "opacity": 0},
      "encoding": {
        "y": {
          "field": "R", "type": "quantitative",
          "scale": {"type": "log", "domain": [0.00005, 100], "nice": false},
          "axis": {"orient": "left", "labels": false, "ticks": false, "grid": false, "title": "─────────────", "titleFont": "DejaVu Sans Mono", "titleFontSize": 13, "titleX": -81, "titleY": 141, "titleAlign": "center", "titleBaseline": "middle", "titleAngle": 270}
        }
      }
    },
    {
      "data": {"name": "one"},
      "mark": {"type": "point", "opacity": 0},
      "encoding": {
        "y": {
          "field": "R", "type": "quantitative",
          "scale": {"type": "log", "domain": [0.00005, 100], "nice": false},
          "axis": {"orient": "left", "labels": false, "ticks": false, "grid": false, "title": "σ(e⁺e⁻→μ⁺μ⁻)", "titleFontSize": 14, "titleX": -70, "titleY": 141, "titleAlign": "center", "titleBaseline": "middle", "titleAngle": 270}
        }
      }
    },
    {
      "data": {"name": "one"},
      "mark": {"type": "point", "opacity": 0},
      "encoding": {
        "y": {
          "field": "R", "type": "quantitative",
          "scale": {"type": "log", "domain": [0.00005, 100], "nice": false},
          "axis": {"orient": "left", "labels": false, "ticks": false, "grid": false, "title": "=", "titleFontSize": 20, "titleX": -82, "titleY": 206, "titleAlign": "center", "titleBaseline": "middle", "titleAngle": 270}
        }
      }
    },
    {
      "data": {"name": "one"},
      "mark": {"type": "point", "opacity": 0},
      "encoding": {
        "y": {
          "field": "R", "type": "quantitative",
          "scale": {"type": "log", "domain": [0.00005, 100], "nice": false},
          "axis": {"orient": "left", "labels": false, "ticks": false, "grid": false, "title": "R", "titleFontSize": 23, "titleX": -82, "titleY": 257, "titleAlign": "center", "titleBaseline": "middle", "titleAngle": 270}
        }
      }
    },
    {
      "data": {"name": "one"},
      "mark": {"type": "point", "opacity": 0},
      "encoding": {
        "y": {
          "field": "R", "type": "quantitative",
          "scale": {"type": "log", "domain": [0.00005, 100], "nice": false},
          "axis": {"orient": "left", "labels": false, "ticks": false, "grid": false, "title": "ℋ", "titleFontSize": 13, "titleX": -88, "titleY": 235, "titleAlign": "center", "titleBaseline": "middle", "titleAngle": 270}
        }
      }
    },
    {
      "data": {"name": "one"},
      "mark": {"type": "point", "opacity": 0},
      "encoding": {
        "y": {
          "field": "R", "type": "quantitative",
          "scale": {"type": "log", "domain": [0.00005, 100], "nice": false},
          "axis": {"orient": "left", "labels": false, "ticks": false, "grid": false, "title": "μ", "titleFontSize": 13, "titleFontStyle": "italic", "titleX": -74, "titleY": 235, "titleAlign": "center", "titleBaseline": "middle", "titleAngle": 270}
        }
      }
    },
    {
      "data": {"name": "pdg"},
      "mark": {"type": "circle", "size": 30, "opacity": 1, "clip": true},
      "encoding": {
        "x": {"field": "s", "type": "quantitative", "scale": {"domain": [0.3, 2.0], "nice": false, "zero": false}, "axis": null},
        "y": {"field": "R", "type": "quantitative", "scale": {"type": "log", "domain": [0.00005, 100], "nice": false}, "axis": null},
        "color": {"field": "curve", "type": "nominal"}
      }
    },
    {
      "data": {"name": "curves"},
      "mark": {"type": "line", "strokeWidth": 2, "clip": true, "interpolate": "monotone"},
      "encoding": {
        "x": {"field": "s", "type": "quantitative", "scale": {"domain": [0.3, 2.0], "nice": false, "zero": false}, "axis": null},
        "y": {"field": "R", "type": "quantitative", "scale": {"type": "log", "domain": [0.00005, 100], "nice": false}, "axis": null},
        "color": {
          "field": "curve", "type": "nominal",
          "scale": {
            "domain": ["pipi", "4pi0", "4pi", "3pi", "pi0g", "KK", "KKpi", "PDG", "pipi_d", "4pi0_d", "4pi_d", "3pi_d", "pi0g_d", "KK_d", "KKpi_d"],
            "range": ["#1e90ff", "#40e0d0", "#0000ff", "#ff8c00", "#ff19ad", "#228b22", "#9400d3", "#000000", "#5aadff", "#79e9de", "#5050f5", "#ffb050", "#ff5ec5", "#555555", "#b44de0"]
          },
          "legend": {
            "title": null,
            "orient": "none",
            "legendX": 438,
            "legendY": 6,
            "columns": 2,
            "values": ["pipi", "4pi0", "4pi", "3pi", "pi0g", "KK", "KKpi", "PDG"],
            "symbolType": "M-2.5,0L2.5,0",
            "symbolSize": 100,
            "symbolStrokeWidth": 2,
            "labelFont": "DejaVu Sans",
            "labelFontSize": 12,
            "labelOffset": 8,
            "labelLimit": 200,
            "rowPadding": 4,
            "columnPadding": 22,
            "padding": 6,
            "fillColor": "white",
            "strokeColor": "#cccccc",
            "cornerRadius": 3,
            "labelExpr": "datum.value == 'pipi' ? 'ℋ = π⁺π⁻' : datum.value == '4pi0' ? 'ℋ = π⁺π⁻π⁰π⁰' : datum.value == '4pi' ? 'ℋ = π⁺π⁻π⁺π⁻' : datum.value == '3pi' ? 'ℋ = π⁺π⁻π⁰' : datum.value == 'pi0g' ? 'ℋ = π⁰γ' : datum.value == 'KK' ? 'ℋ = KK' : datum.value == 'KKpi' ? 'ℋ = KKπ' : 'PDG data'",
            "encode": {
              "symbols": {
                "update": {
                  "shape": {"signal": "datum.value === 'PDG' ? 'M0,-1L0,1M0.25,0A0.25,0.25,0,1,1,-0.25,0A0.25,0.25,0,1,1,0.25,0' : 'M-2.5,0L2.5,0'"},
                  "strokeDash": {"value": []},
                  "fill": {"signal": "datum.value === 'PDG' ? 'black' : 'transparent'"},
                  "opacity": {"value": 1}
                }
              },
              "labels": {
                "update": {
                  "fontStyle": {"signal": "datum.value === 'PDG' ? 'normal' : 'italic'"}
                }
              }
            }
          }
        },
        "strokeDash": {
          "field": "model", "type": "nominal",
          "scale": {"domain": ["solid", "dashed"], "range": [[1, 0], [6, 3]]},
          "legend": null
        }
      }
    }
  ],
  "resolve": {"axis": {"x": "independent", "y": "independent"}}
}
